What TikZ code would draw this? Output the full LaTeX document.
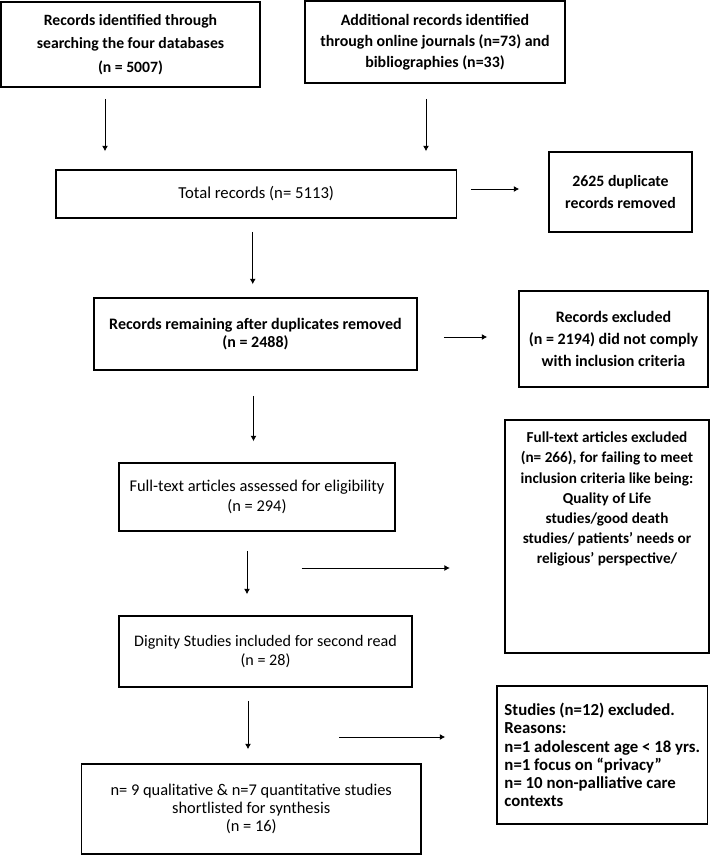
\documentclass[tikz,border=0pt]{standalone}
\usepackage{fontspec}
\setmainfont{Carlito}
\usetikzlibrary{positioning, arrows.meta}
\newcommand{\fs}[2]{\fontsize{#1}{#2}\selectfont}

\begin{document}
\begin{tikzpicture}[x=1pt, y=-1pt,
  box/.style={draw, line width=1.5pt, align=center, inner sep=0pt},
  arr/.style={-{Latex[length=5.5pt,width=6pt]}, line width=0.9pt}]
\useasboundingbox (0,0) rectangle (710,855);

% left column
\node[box, font=\fs{15.7}{23.5}\bfseries, minimum width=259pt, minimum height=85pt] (b1) at (130.5,44.5)
{Records identified through\\searching the four databases\\(n = 5007)};
\node[box, font=\fs{15.9}{21}\bfseries, minimum width=260pt, minimum height=82pt] (b2) at (435,42)
{Additional records identified\\through online journals (n=73) and\\bibliographies (n=33)};
\node[box, font=\fs{16.7}{18}, minimum width=400.5pt, minimum height=48pt] (b3) at (256.25,194)
{Total records (n= 5113)};
\node[box, font=\fs{16}{18}\bfseries, minimum width=323pt, minimum height=72pt] (b5) at (255.5,334)
{Records remaining after duplicates removed\\(n = 2488)};
\node[box, font=\fs{16.4}{20}, minimum width=276pt, minimum height=68pt] (b7) at (257,497)
{Full-text articles assessed for eligibility\\(n = 294)};
\node[box, font=\fs{16.1}{19}, minimum width=293pt, minimum height=71pt] (b9) at (265.5,651.5)
{Dignity Studies included for second read\\(n = 28)};
\node[box, font=\fs{16.4}{18}, minimum width=339.5pt, minimum height=90pt] (b10) at (251.25,809)
{n= 9 qualitative \& n=7 quantitative studies\\shortlisted for synthesis\\(n = 16)};

% right column
\node[box, font=\fs{15.8}{22}\bfseries, minimum width=143pt, minimum height=80pt] (b4) at (620.5,192)
{2625 duplicate\\records removed};
\node[box, font=\fs{16}{22}\bfseries, minimum width=189pt, minimum height=96pt] (b6) at (613.5,339)
{Records excluded\\(n = 2194) did not comply\\with inclusion criteria};
\node[box, font=\fs{15.2}{20.2}\bfseries, minimum width=204pt, minimum height=233pt] (b8) at (607,536.5)
{\parbox[c][209pt][t]{200pt}{\centering Full-text articles excluded\\(n= 266), for failing to meet\\inclusion criteria like being:\\Quality of Life\\studies/good death\\studies/ patients’ needs or\\religious’ perspective/}};
\node[box, font=\fs{16.8}{18.3}\bfseries, align=left, minimum width=210.5pt, minimum height=138pt] (b11) at (602.25,755)
{Studies (n=12) excluded.\\Reasons:\\n=1 adolescent age < 18 yrs.\\n=1 focus on “privacy”\\n= 10 non-palliative care\\contexts};

\coordinate (m8) at (301.6,568);
\coordinate (m11) at (339,737);

% arrows
\draw[arr, shorten <=11pt, shorten >=18pt] ([xshift=-25.5pt]b1.south) -- ([xshift=-25.5pt]b1.south |- b3.north);
\draw[arr, shorten <=15pt, shorten >=18pt] ([xshift=-9pt]b2.south) -- ([xshift=-9pt]b2.south |- b3.north);
\draw[arr, shorten <=13.5pt, shorten >=29pt] ([yshift=5pt]b3.east) -- ([yshift=5pt]b3.east -| b4.west);
\draw[arr, shorten <=13pt, shorten >=13pt] ([xshift=-3.5pt]b3.south) -- ([xshift=-3.5pt]b3.south |- b5.north);
\draw[arr, shorten <=26pt, shorten >=31pt] ([yshift=-3pt]b5.east) -- ([yshift=-3pt]b5.east -| b6.west);
\draw[arr, shorten <=25pt, shorten >=21pt] ([xshift=-2pt]b5.south) -- ([xshift=-2pt]b5.south |- b7.north);
\draw[arr, shorten <=19pt, shorten >=21pt] ([xshift=-10pt]b7.south) -- ([xshift=-10pt]b7.south |- b9.north);
\draw[arr, shorten >=54.4pt] (m8) -- (m8 -| b8.west);
\draw[arr, shorten <=13pt, shorten >=14pt] ([xshift=-17.5pt]b9.south) -- ([xshift=-17.5pt]b9.south |- b10.north);
\draw[arr, shorten >=51pt] (m11) -- (m11 -| b11.west);
\end{tikzpicture}
\end{document}
